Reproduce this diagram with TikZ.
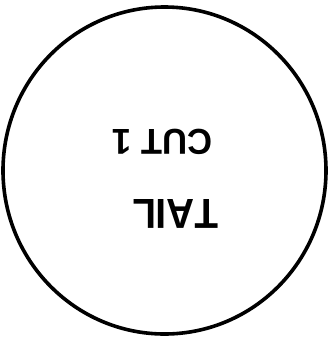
\documentclass[tikz,border=0pt]{standalone}
\usepackage{fontspec}
\setmainfont{Liberation Sans}[Kerning=Off]
\begin{document}
\begin{tikzpicture}[x=1pt,y=-1pt,
  lbl/.style={rotate=180,inner sep=0pt,text depth=0pt,font=\bfseries\fontsize{36}{36}\selectfont}]
\useasboundingbox (0,0) rectangle (331,341);
\draw[line width=3.6pt] (164.5,170.5) ellipse [x radius=161.5,y radius=163.5];
\node[lbl,xscale=0.96] (cut) at (162.5,142) {CUT 1};
\node[lbl,font=\bfseries\fontsize{42}{42}\selectfont,xscale=0.92] (tail) at (175.5,214) {TAIL};
\end{tikzpicture}
\end{document}
